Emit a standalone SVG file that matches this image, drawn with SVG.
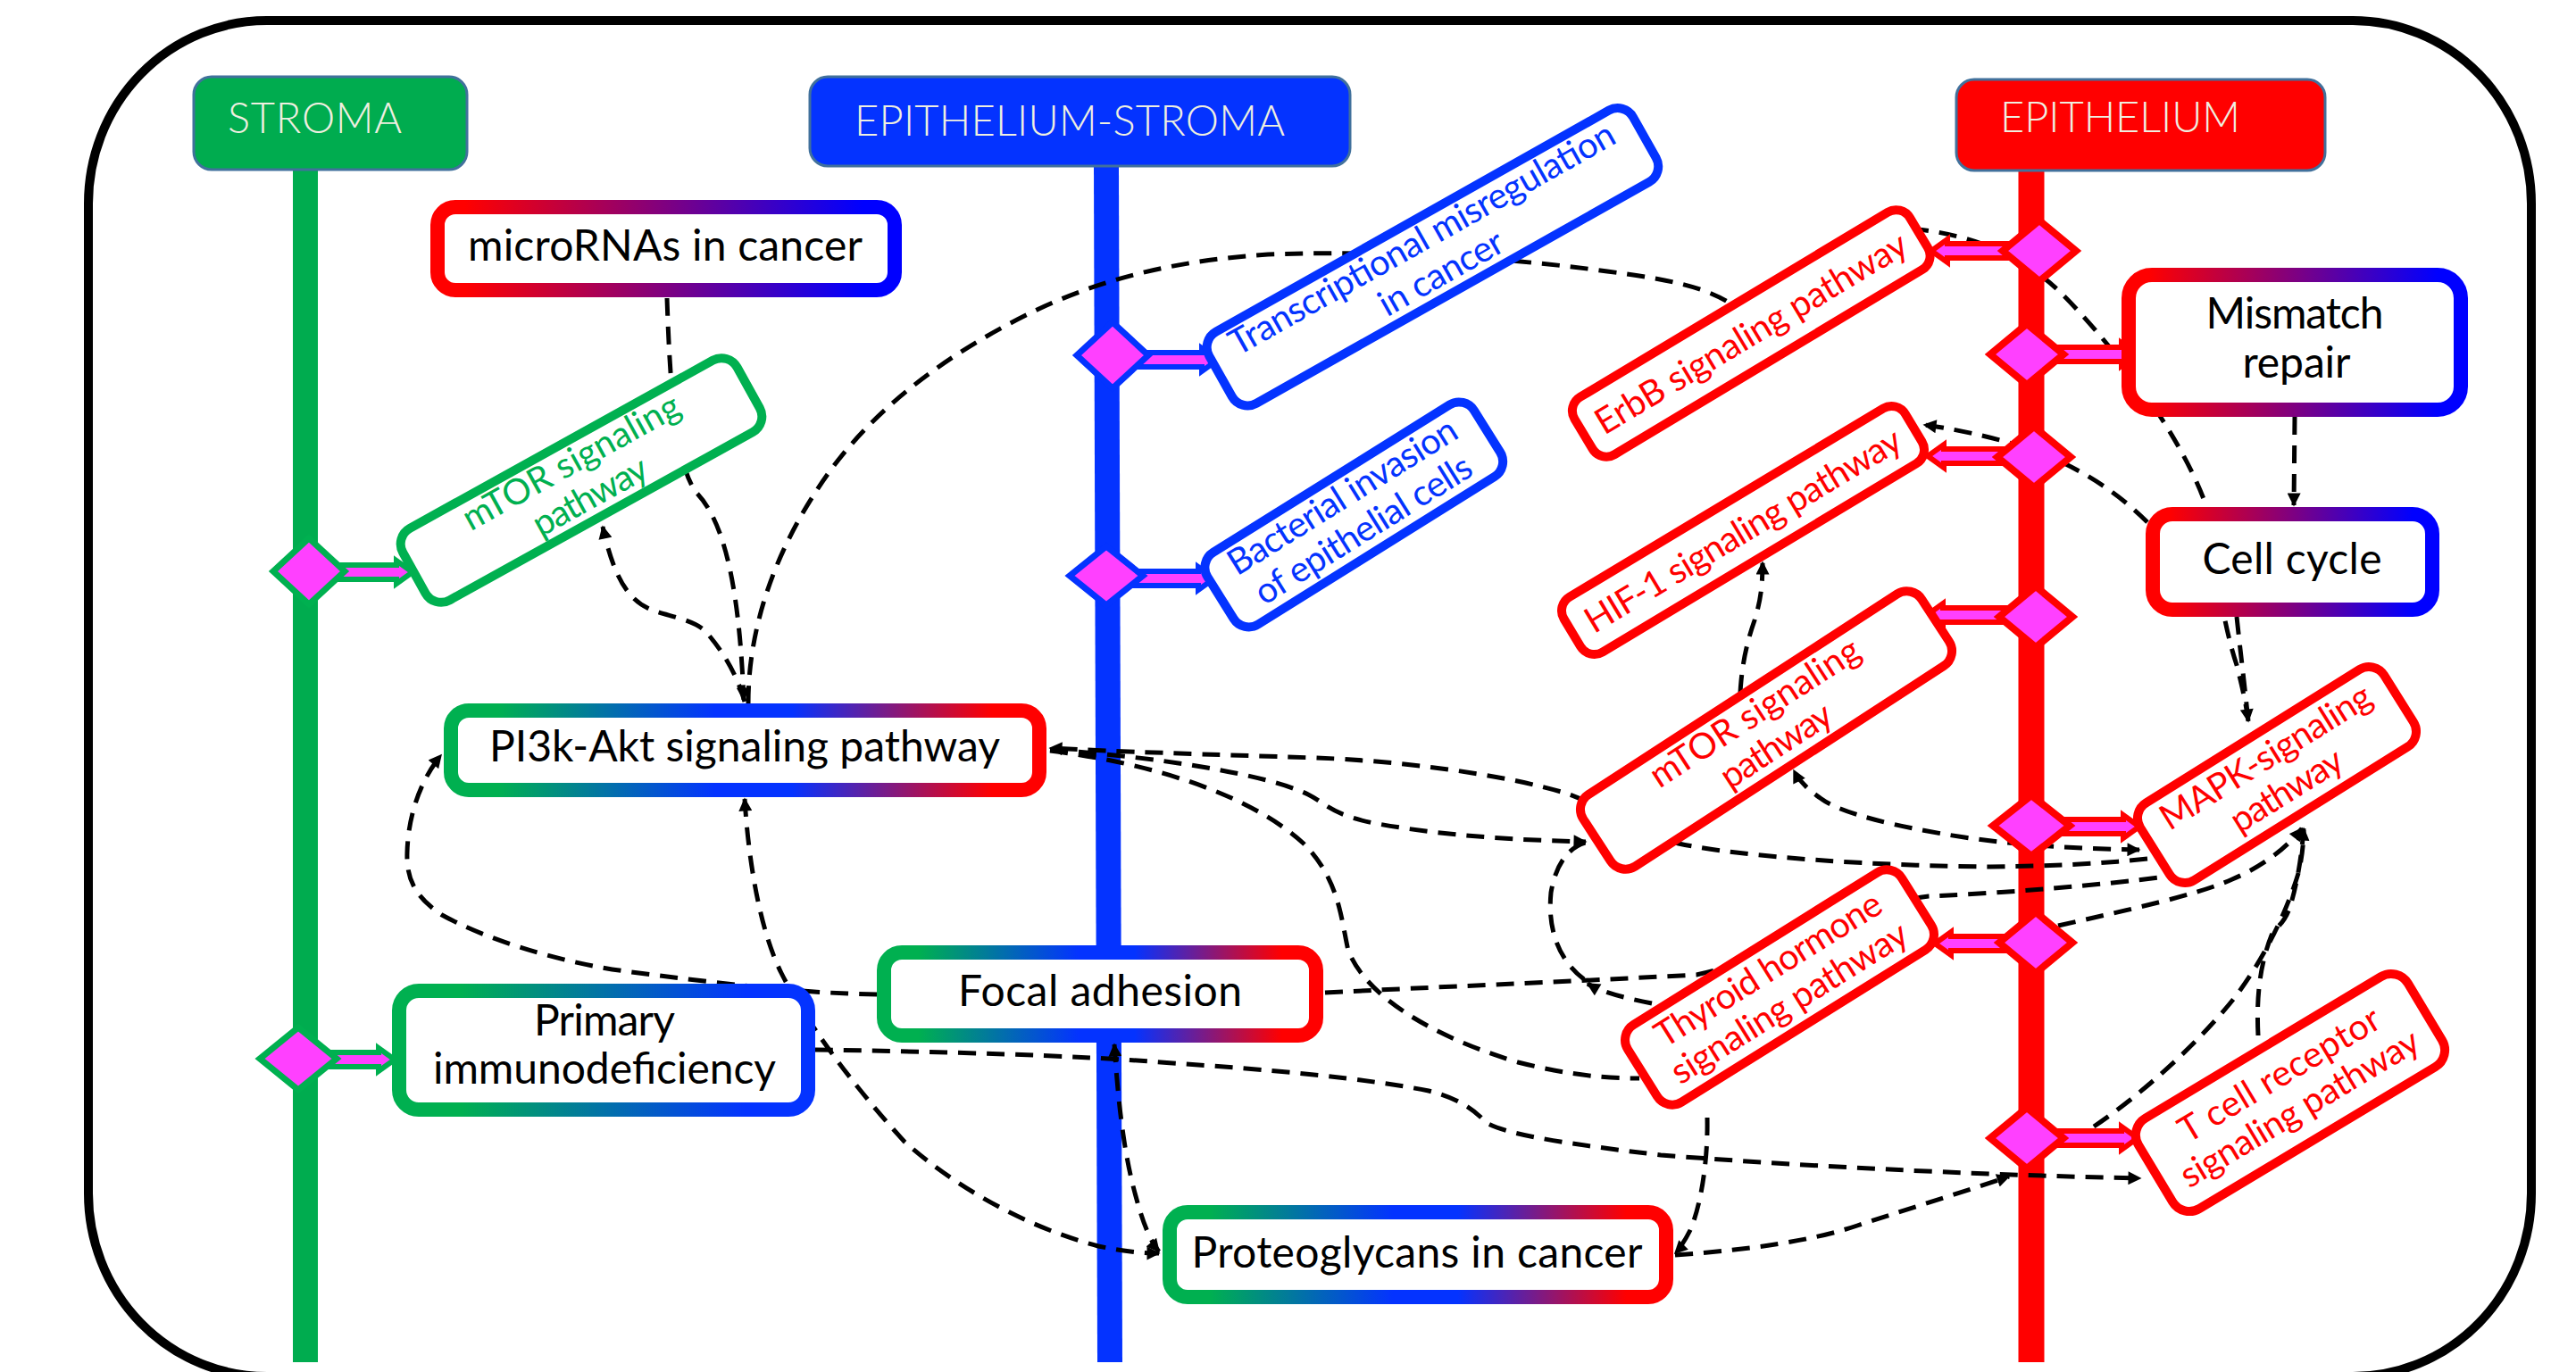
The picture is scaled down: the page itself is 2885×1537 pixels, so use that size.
<svg xmlns="http://www.w3.org/2000/svg" width="2885" height="1537" viewBox="0 0 2885 1537">
<defs>
<style>
text{font-family:Lato,"Open Sans","Liberation Sans",sans-serif}
.hdr{font-size:47px;fill:#EFEFE0;font-weight:300}
.nt{font-size:48px;fill:#000;text-anchor:middle}
.rt{font-size:40px;text-anchor:middle}
.hbox{stroke:#41719C;stroke-width:3}
.cn path{fill:none;stroke:#000;stroke-width:5;stroke-dasharray:20 12}
.dg{fill:#FF40FF;stroke:#00B050;stroke-width:7;stroke-linejoin:miter}
.db{fill:#FF40FF;stroke:#0433FF;stroke-width:7;stroke-linejoin:miter}
.dr{fill:#FF40FF;stroke:#FF0000;stroke-width:8;stroke-linejoin:miter}
.ag{fill:#FF40FF;stroke:#00B050;stroke-width:6}
.ab{fill:#FF40FF;stroke:#0433FF;stroke-width:6}
.ar{fill:#FF40FF;stroke:#FF0000;stroke-width:6}
.rg{fill:#fff;stroke:#00B050;stroke-width:10}
.rb{fill:#fff;stroke:#0433FF;stroke-width:10}
.rr{fill:#fff;stroke:#FF0000;stroke-width:10}
.gb{fill:#fff;stroke-width:16}
</style>
<linearGradient id="gRB" x1="0" y1="0" x2="1" y2="0"><stop offset="0.06" stop-color="#FF0000"/><stop offset="0.93" stop-color="#0000FF"/></linearGradient>
<linearGradient id="gGB" x1="0" y1="0" x2="1" y2="0"><stop offset="0.15" stop-color="#00B050"/><stop offset="0.85" stop-color="#0433FF"/></linearGradient>
<linearGradient id="gGBR" x1="0" y1="0" x2="1" y2="0"><stop offset="0.08" stop-color="#00B050"/><stop offset="0.45" stop-color="#0433FF"/><stop offset="0.58" stop-color="#0433FF"/><stop offset="0.92" stop-color="#FF0000"/></linearGradient>
<marker id="ah" viewBox="0 0 10 10" refX="9" refY="5" markerUnits="userSpaceOnUse" markerWidth="17" markerHeight="15" orient="auto-start-reverse"><path d="M0,0 L10,5 L0,10 z" fill="#000"/></marker>
<path id="ba" d="M-40,-8 H58 V-13 L76,0 L58,13 V8 H-40 Z"/>
</defs>

<rect x="0" y="0" width="2885" height="1537" fill="#fff"/>
<rect id="frame" x="99" y="23" width="2736" height="1519" rx="200" ry="205" fill="#fff" stroke="#000" stroke-width="10"/>

<g id="lanes">
<line x1="342" y1="188" x2="342" y2="1526" stroke="#00AC4F" stroke-width="28"/>
<line x1="1239" y1="184" x2="1243" y2="1526" stroke="#0433FF" stroke-width="28"/>
<line x1="2275" y1="188" x2="2275" y2="1526" stroke="#FF0000" stroke-width="29"/>
<g id="lane-stroma"><rect class="hbox" x="217" y="86" width="306" height="104" rx="20" fill="#00AC4F"/><text class="hdr" x="255" y="149" textLength="195">STROMA</text></g>
<g id="lane-epi-stroma"><rect class="hbox" x="907" y="86" width="605" height="100" rx="20" fill="#0433FF"/><text class="hdr" x="957" y="152" textLength="482">EPITHELIUM-STROMA</text></g>
<g id="lane-epi"><rect class="hbox" x="2191" y="89" width="413" height="102" rx="20" fill="#FF0000"/><text class="hdr" x="2240" y="148" textLength="269">EPITHELIUM</text></g>
</g>

<g id="connectors" class="cn">
<path d="M747,334 C750,420 755,520 780,552 C812,585 828,660 833,784" marker-end="url(#ah)"/>
<path d="M834,786 C825,755 810,730 790,707 C775,693 745,690 727,682 C705,672 688,650 675,590" marker-end="url(#ah)"/>
<path d="M838,788 C838,700 870,610 930,527 C990,445 1080,385 1170,343 C1250,307 1330,291 1420,285 C1560,280 1700,290 1800,304 C1870,313 1915,322 1945,345"/>
<path d="M2140,256 C2200,262 2260,280 2310,330 C2360,380 2440,480 2471,567 C2482,640 2490,700 2505,745 C2510,765 2515,785 2518,808" marker-end="url(#ah)"/>
<path d="M2505,691 C2508,720 2513,760 2518,808"/>
<path d="M2570,467 L2569,566" marker-end="url(#ah)"/>
<path d="M2405,585 C2370,550 2330,525 2280,505 C2240,492 2200,482 2155,476" marker-end="url(#ah)"/>
<path d="M1949,776 C1951,740 1958,715 1965,695 C1971,675 1974,660 1974,630" marker-end="url(#ah)"/>
<path d="M2405,962 C2350,968 2300,970 2229,971 C2100,970 1950,960 1880,945 C1820,930 1790,900 1755,889 C1680,866 1560,852 1474,849 C1350,845 1250,842 1176,838" marker-end="url(#ah)"/>
<path d="M1176,840 C1300,848 1420,868 1465,890 C1485,900 1490,912 1538,922 C1620,937 1700,941 1776,943" marker-end="url(#ah)"/>
<path d="M1176,841 C1290,855 1400,890 1460,945 C1500,985 1502,1030 1510,1065 C1530,1115 1600,1160 1700,1190 C1760,1205 1800,1208 1836,1208"/>
<path d="M2396,952 C2330,951 2260,947 2200,938 C2120,926 2060,910 2040,895 C2025,885 2015,875 2009,863" marker-start="url(#ah)" marker-end="url(#ah)"/>
<path d="M1484,1112 C1600,1106 1750,1100 1900,1092 C2000,1070 2100,1010 2160,1004 C2250,1000 2350,992 2425,982"/>
<path d="M2305,1037 C2380,1020 2460,1003 2500,985 C2540,968 2565,945 2578,928" marker-end="url(#ah)"/>
<path d="M1850,1124 C1820,1118 1795,1112 1778,1102" marker-end="url(#ah)"/>
<path d="M1774,1097 C1745,1075 1733,1040 1737,1000 C1742,970 1755,950 1776,944"/>
<path d="M913,1176 C1050,1178 1200,1182 1300,1190 C1420,1198 1530,1208 1600,1222 C1640,1232 1655,1248 1665,1258 C1690,1272 1760,1282 1860,1294 C2000,1305 2200,1316 2397,1320" marker-end="url(#ah)"/>
<path d="M1912,1252 C1913,1300 1905,1350 1893,1378 C1886,1392 1880,1400 1876,1404" marker-end="url(#ah)"/>
<path d="M1876,1406 C1960,1400 2030,1390 2080,1373 C2150,1350 2200,1335 2250,1318" marker-end="url(#ah)"/>
<path d="M2529,1160 C2527,1120 2530,1080 2546,1043 C2555,1035 2560,1030 2565,1015 C2574,985 2578,955 2580,928" marker-end="url(#ah)"/>
<path d="M2345,1262 C2400,1225 2460,1170 2500,1121 C2540,1070 2565,1010 2575,975 C2579,955 2580,940 2580,930"/>
<path d="M982,1114 C900,1113 800,1101 700,1088 C620,1077 540,1050 495,1025 C465,1005 455,985 456,955 C457,915 470,875 494,846" marker-end="url(#ah)"/>
<path d="M834,895 C838,960 850,1040 875,1090 C900,1140 950,1210 1013,1279 C1070,1330 1150,1375 1230,1396 C1260,1402 1280,1404 1298,1404" marker-start="url(#ah)" marker-end="url(#ah)"/>
<path d="M1248,1170 C1252,1230 1258,1290 1272,1340 C1280,1370 1288,1390 1298,1402" marker-start="url(#ah)" marker-end="url(#ah)"/>
</g>

<g id="links">
<use href="#ba" class="ag" transform="translate(386,641)"/>
<use href="#ba" class="ag" transform="translate(366,1187)"/>
<use href="#ba" class="ab" transform="translate(1288,403)"/>
<use href="#ba" class="ab" transform="translate(1284,648)"/>
<use href="#ba" class="ar" transform="translate(2239,281) scale(-1,1)"/>
<use href="#ba" class="ar" transform="translate(2318,397)"/>
<use href="#ba" class="ar" transform="translate(2235,511) scale(-1,1)"/>
<use href="#ba" class="ar" transform="translate(2234,689) scale(-1,1)"/>
<use href="#ba" class="ar" transform="translate(2320,926)"/>
<use href="#ba" class="ar" transform="translate(2243,1057) scale(-1,1)"/>
<use href="#ba" class="ar" transform="translate(2318,1275)"/>
</g>

<g id="diamonds">
<path id="d1" class="dg" d="M346,603 L386,640 L346,677 L306,640 Z"/>
<path id="d2" class="dg" d="M334,1151 L377,1186 L334,1221 L291,1186 Z"/>
<path id="d3" class="db" d="M1246,361 L1286,398 L1246,435 L1206,398 Z"/>
<path id="d4" class="db" d="M1239,612 L1280,645 L1239,678 L1198,645 Z"/>
<path id="d5" class="dr" d="M2284,247 L2325,281 L2284,315 L2243,281 Z"/>
<path id="d6" class="dr" d="M2270,363 L2311,397 L2270,431 L2229,397 Z"/>
<path id="d7" class="dr" d="M2278,478 L2319,512 L2278,546 L2237,512 Z"/>
<path id="d8" class="dr" d="M2280,657 L2321,691 L2280,725 L2239,691 Z"/>
<path id="d9" class="dr" d="M2275,891 L2318,925 L2275,959 L2232,925 Z"/>
<path id="d10" class="dr" d="M2280,1022 L2321,1056 L2280,1090 L2239,1056 Z"/>
<path id="d11" class="dr" d="M2270,1241 L2311,1275 L2270,1309 L2229,1275 Z"/>
</g>

<g id="n-microrna"><rect class="gb" x="490" y="232" width="512" height="93" rx="20" stroke="url(#gRB)"/><text class="nt" x="745" y="292" textLength="442">microRNAs in cancer</text></g>
<g id="n-pi3k"><rect class="gb" x="505" y="796" width="659" height="89" rx="20" stroke="url(#gGBR)"/><text class="nt" x="834" y="853" textLength="572">PI3k-Akt signaling pathway</text></g>
<g id="n-focal"><rect class="gb" x="990" y="1067" width="484" height="93" rx="20" stroke="url(#gGBR)"/><text class="nt" x="1232" y="1127" font-size="50" textLength="318">Focal adhesion</text></g>
<g id="n-proteo"><rect class="gb" x="1310" y="1358" width="556" height="95" rx="20" stroke="url(#gGBR)"/><text class="nt" x="1587" y="1420" textLength="505">Proteoglycans in cancer</text></g>
<g id="n-primary"><rect class="gb" x="447" y="1110" width="458" height="133" rx="22" stroke="url(#gGB)"/><text class="nt" x="677" y="1160" textLength="158">Primary</text><text class="nt" x="677" y="1214" textLength="384">immunodeficiency</text></g>
<g id="n-mismatch"><rect class="gb" x="2384" y="308" width="372" height="151" rx="26" stroke="url(#gRB)"/><text class="nt" x="2570" y="368" textLength="199">Mismatch</text><text class="nt" x="2572" y="423" textLength="121">repair</text></g>
<g id="n-cellcycle"><rect class="gb" x="2411" y="576" width="313" height="107" rx="22" stroke="url(#gRB)"/><text class="nt" x="2567" y="643" textLength="201">Cell cycle</text></g>

<g id="n-mtor-stroma" transform="translate(651,538) rotate(-29)"><rect class="rg" x="-214" y="-46" width="428" height="92" rx="20"/><text class="rt" fill="#00B050" x="0" y="-10" textLength="272">mTOR signaling</text><text class="rt" fill="#00B050" x="0" y="34" textLength="141">pathway</text></g>
<g id="n-transcr" transform="translate(1604,288) rotate(-29.4)"><rect class="rb" x="-272" y="-46" width="545" height="92" rx="20"/><text class="rt" fill="#0433FF" x="0" y="-10" textLength="489">Transcriptional misregulation</text><text class="rt" fill="#0433FF" x="0" y="34" textLength="154">in cancer</text></g>
<g id="n-bacterial" transform="translate(1516,576) rotate(-32)"><rect class="rb" x="-176" y="-47" width="352" height="95" rx="20"/><text class="rt" fill="#0433FF" x="0" y="-10" textLength="295">Bacterial invasion</text><text class="rt" fill="#0433FF" x="0" y="34" textLength="279">of epithelial cells</text></g>
<g id="n-erbb" transform="translate(1961,373) rotate(-31)"><rect class="rr" x="-219" y="-37" width="438" height="75" rx="18"/><text class="rt" fill="#FF0000" x="0" y="14" textLength="400">ErbB signaling pathway</text></g>
<g id="n-hif1" transform="translate(1952,594) rotate(-31)"><rect class="rr" x="-223" y="-36" width="446" height="72" rx="18"/><text class="rt" fill="#FF0000" x="0" y="14" textLength="406">HIF-1 signaling pathway</text></g>
<g id="n-mtor-epi" transform="translate(1978,818) rotate(-33)"><rect class="rr" x="-226" y="-48" width="452" height="96" rx="20"/><text class="rt" fill="#FF0000" x="0" y="-10" textLength="272">mTOR signaling</text><text class="rt" fill="#FF0000" x="0" y="34" textLength="141">pathway</text></g>
<g id="n-thyroid" transform="translate(1993,1106) rotate(-32)"><rect class="rr" x="-181" y="-51" width="362" height="102" rx="20"/><text class="rt" fill="#FF0000" x="0" y="-10" textLength="291">Thyroid hormone</text><text class="rt" fill="#FF0000" x="0" y="34" textLength="305">signaling pathway</text></g>
<g id="n-mapk" transform="translate(2550,868) rotate(-32)"><rect class="rr" x="-161" y="-51" width="322" height="102" rx="20"/><text class="rt" fill="#FF0000" x="0" y="-10" textLength="271">MAPK-signaling</text><text class="rt" fill="#FF0000" x="0" y="34" textLength="141">pathway</text></g>
<g id="n-tcell" transform="translate(2565,1224) rotate(-31)"><rect class="rr" x="-176" y="-59" width="352" height="118" rx="22"/><text class="rt" fill="#FF0000" x="0" y="-10" textLength="256">T cell receptor</text><text class="rt" fill="#FF0000" x="0" y="34" textLength="305">signaling pathway</text></g>
</svg>
